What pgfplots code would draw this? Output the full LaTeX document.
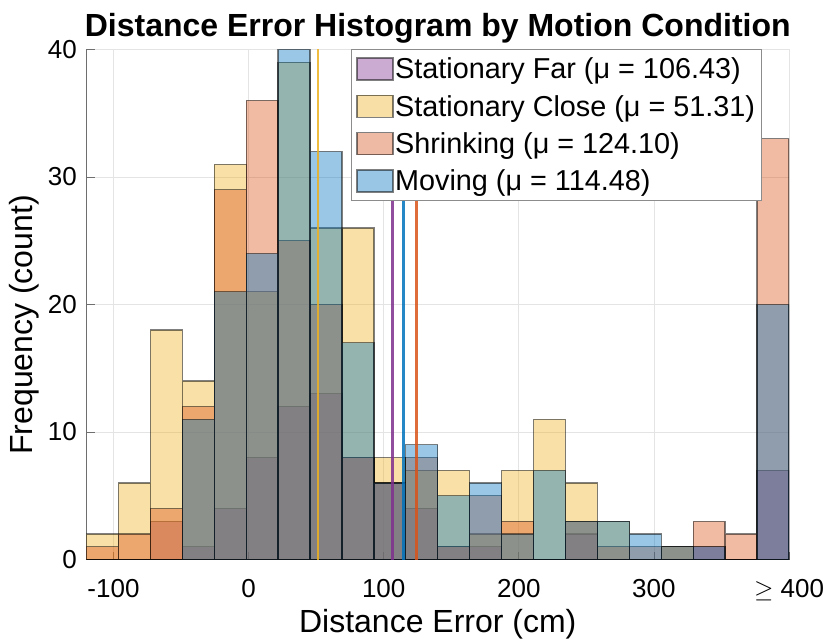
\documentclass[border=0pt]{standalone}
\usepackage{fontspec}
\setmainfont{Liberation Sans}
\usepackage{pgfplots}
\usepackage{pgfplotstable}
\pgfplotsset{compat=1.18}
\definecolor{cFar}{RGB}{126,47,142}
\definecolor{cClose}{RGB}{237,177,32}
\definecolor{cShr}{RGB}{217,83,25}
\definecolor{cMov}{RGB}{0,114,189}
\definecolor{gridc}{RGB}{228,228,228}
\definecolor{axc}{RGB}{110,110,110}

\pgfplotstableread{
edge far close shrink moving
-120 0 2 1 0
-96.3636 0 6 2 0
-72.7273 3 18 4 0
-49.0909 1 14 12 11
-25.4545 4 31 29 21
-1.8182 8 21 36 24
21.8182 12 39 25 40
45.4545 13 26 20 32
69.0909 8 26 8 17
92.7273 6 8 6 6
116.3636 4 7 8 9
140 1 7 1 5
163.6364 1 2 5 6
187.2727 0 7 3 2
210.9091 0 11 0 7
234.5455 2 6 3 3
258.1818 0 3 1 3
281.8182 0 0 1 2
305.4545 0 1 1 1
329.0909 1 0 3 1
352.7273 0 0 2 0
376.3636 7 0 33 20
400 0 0 0 0
}\hist

\pgfplotsset{
  histbar/.style={ybar interval, fill=#1, fill opacity=0.4, draw=black, draw opacity=0.5, line width=1.3pt,
    legend image code/.code={\draw[##1, draw opacity=0.5] (0pt,-11pt) rectangle (36pt,11pt);}},
}

\begin{document}
\begin{tikzpicture}
\begin{axis}[
  at={(0,0)}, anchor=south west,
  scale only axis, width=702.5pt, height=510pt,
  xmin=-120, xmax=400, ymin=0, ymax=40,
  axis x line*=bottom, axis y line*=left,
  axis line style={draw=axc, line width=0.8pt},
  xtick={-100,0,100,200,300,400},
  xticklabels={-100,0,100,200,300,{$\geq$ 400}},
  ytick={0,10,20,30,40},
  yticklabels={0,10,20,30,40},
  grid=major, major grid style={draw=gridc, line width=0.8pt},
  tick align=inside, major tick length=8pt,
  tick style={draw=axc, line width=0.8pt},
  /pgf/number format/assume math mode=true,
  tick label style={font=\fontsize{26}{30}\selectfont},
  xticklabel style={anchor=base, yshift=-37.5pt},
  yticklabel style={anchor=east, inner sep=0pt, xshift=-9.5pt},
  xlabel={Distance Error (cm)},
  ylabel={Frequency (count)},
  label style={font=\fontsize{32}{37}\selectfont},
  xlabel style={at={(axis description cs:0.5,0)}, anchor=base, yshift=-72.5pt},
  ylabel style={at={(axis description cs:-0.0772,0.46)}, anchor=base, rotate=0},
  title={Distance Error Histogram by Motion Condition},
  title style={font=\bfseries\fontsize{32}{37}\selectfont, at={(axis description cs:0.5,1)}, anchor=base, yshift=7pt},
  legend style={at={(axis description cs:0.9616,1)}, anchor=north east,
    draw=black!45, fill=white, line width=0.8pt,
    font=\fontsize{28.8}{33}\selectfont, inner xsep=5pt, inner ysep=7.5pt,
    row sep=14pt, nodes={inner xsep=1.5pt, inner ysep=0pt}},
  legend cell align=left,
]
\addplot[histbar=cFar] table[x=edge,y=far]{\hist};
\addlegendentry{Stationary Far (μ = 106.43)}
\addplot[histbar=cClose] table[x=edge,y=close]{\hist};
\addlegendentry{Stationary Close (μ = 51.31)}
\addplot[histbar=cShr] table[x=edge,y=shrink]{\hist};
\addlegendentry{Shrinking (μ = 124.10)}
\addplot[histbar=cMov] table[x=edge,y=moving]{\hist};
\addlegendentry{Moving (μ = 114.48)}

\addplot[forget plot, draw=cFar, draw opacity=0.85, line width=2.6pt] coordinates {(106.43,0) (106.43,40)};
\addplot[forget plot, draw=cClose, draw opacity=0.85, line width=2.6pt] coordinates {(51.31,0) (51.31,40)};
\addplot[forget plot, draw=cShr, draw opacity=0.85, line width=2.6pt] coordinates {(124.10,0) (124.10,40)};
\addplot[forget plot, draw=cMov, draw opacity=0.85, line width=2.6pt] coordinates {(114.48,0) (114.48,40)};
\end{axis}
\pgfresetboundingbox
\path[use as bounding box] (-86.5pt,-83.5pt) rectangle (745.5pt,559.5pt);
\end{tikzpicture}
\end{document}
